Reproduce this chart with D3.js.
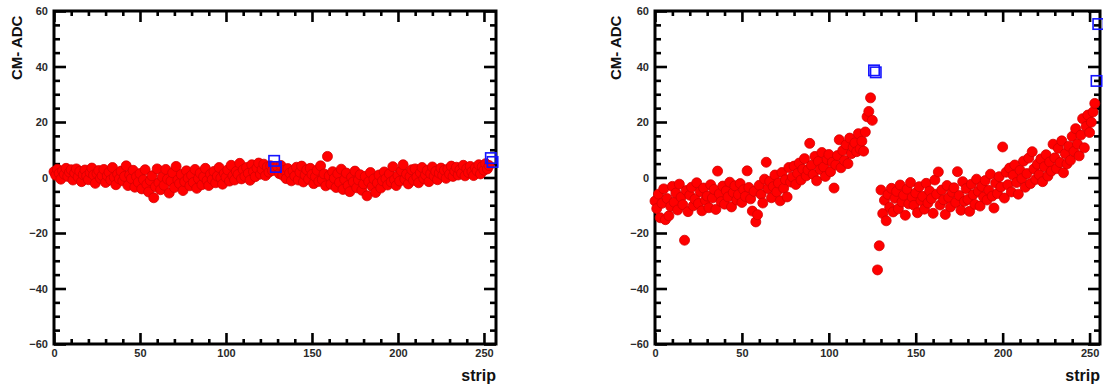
<!DOCTYPE html>
<html>
<head>
<meta charset="utf-8">
<script src="https://cdn.jsdelivr.net/npm/d3@7"></script>
<style>
  body { margin: 0; background: #fff; }
  svg { display: block; }
</style>
</head>
<body>
<svg id="chart" width="1103" height="385"></svg>
<script>
// Common-mode subtracted ADC per strip, two detector modules.
// null = strip flagged (drawn as an open square instead).

const xMajorTicks = [0, 50, 100, 150, 200, 250];
const yMajorTicks = [-60, -40, -20, 0, 20, 40, 60];

const leftValues = [
  2.1, 0.8, 3.0, 1.5, -0.6, 2.4, 1.2, 3.3, 0.4, 1.9,
  2.8, -0.9, 1.6, 3.1, 0.2, 2.2, -1.5, 1.0, 2.7, 0.5,
  -0.8, 1.8, 3.4, 0.9, -2.1, 1.4, 2.5, -0.3, 0.7, 2.9,
  -1.8, 0.6, 1.9, -0.9, 3.6, 0.1, -2.6, 1.2, -0.5, 2.3,
  -1.2, 0.4, 4.2, -2.9, 0.9, -0.4, 2.6, -3.5, 0.3, -1.7,
  1.4, -4.1, -0.8, 2.8, -2.5, -5.2, -1.1, 0.6, -7.3, -3.3,
  3.1, -1.9, -4.4, 0.2, -2.8, 2.9, -0.6, -5.6, -1.3, 1.7,
  -3.6, 4.0, -0.9, -2.2, 1.1, -4.7, -1.5, 2.4, -0.2, -3.0,
  0.8, -1.8, 2.9, -3.9, -0.4, 1.6, -2.6, 0.3, 3.3, -1.1,
  -2.9, 1.2, -0.7, 2.2, -1.9, 0.5, 3.6, -0.2, -2.4, 1.5,
  0.1, 2.7, -1.3, 4.4, 0.6, -0.9, 2.2, 1.1, 5.1, -0.5,
  2.8, 0.4, 3.6, 1.5, -1.0, 4.6, 2.1, 0.3, 3.4, 5.2,
  1.2, 2.9, 4.8, 0.7, 3.8, 1.9, 4.2, 2.5, null, null,
  3.9, 1.4, 4.3, 0.8, 2.6, -0.4, 3.2, 1.6, -1.2, 2.4,
  0.5, 3.7, -0.9, 1.9, 4.1, -1.6, 0.9, 2.8, -0.6, 3.3,
  1.1, -2.2, 0.3, 2.6, -1.4, 4.2, -0.8, 1.3, -3.0, 7.6,
  0.6, -2.4, 2.1, -0.3, -3.6, 1.4, -1.8, 3.0, -4.3, -0.7,
  1.6, -2.9, -5.1, 0.1, -1.6, 2.3, -3.7, -0.9, 1.0, -4.6,
  -2.3, 0.4, -6.6, -1.5, 1.8, -3.2, -0.5, -5.4, -2.0, 0.9,
  -3.8, -1.2, 2.0, -0.4, -2.7, 1.3, -1.6, 3.9, -0.8, -2.9,
  0.7, -1.3, 2.4, 4.6, -0.6, 1.2, -2.3, 0.4, 2.8, -1.0,
  3.1, 0.2, -1.9, 1.7, 3.6, -0.4, 0.9, 2.5, -1.5, 1.4,
  3.8, 0.5, 2.2, -0.8, 1.6, 3.4, 0.8, 2.6, -0.3, 3.0,
  1.2, 4.1, 0.4, 2.3, 3.7, 0.9, 2.8, 1.5, 4.4, 0.6,
  3.2, 1.8, 4.0, 2.1, 0.7, 3.5, 2.4, 4.6, 1.3, 3.9,
  2.6, 5.0, 3.1, 4.3, null, null
];
const leftFlagStrips = [128, 129, 254, 255];
const leftFlagValues = [6.0, 3.8, 7.0, 5.6];

const rightValues = [
  -8.5, -11.2, -6.0, -14.5, -9.3, -4.1, -15.2, -7.6, -13.8, -10.4,
  -3.2, -8.9, -5.6, -11.7, -2.4, -7.1, -9.8, -22.6, -4.7, -12.3,
  -6.4, -3.5, -10.2, -7.8, -1.9, -9.4, -5.1, -12.0, -3.8, -8.2,
  -6.7, -10.9, -2.6, -7.4, -4.3, -11.5, 2.3, -5.9, -8.7, -3.1,
  -9.6, -4.8, -7.0, -1.7, -10.6, -5.4, -3.0, -8.1, -6.2, -2.2,
  -9.0, -4.4, -6.8, 2.4, -3.6, -7.7, -12.1, -5.0, -16.0, -13.4,
  -2.8, -6.1, -9.2, -0.6, 5.5, -4.0, -1.4, -7.3, -3.3, 0.9,
  -5.2, -2.0, -8.4, 1.8, -3.9, -0.8, -7.0, 3.6, -1.6, 0.2,
  4.1, -2.5, 1.5, 5.2, -0.9, 3.0, 6.8, 0.6, 2.7, 12.3,
  4.4, 1.1, 7.6, -1.2, 5.8, 2.9, 9.0, 3.8, 0.4, 6.5,
  8.3, 2.1, 5.5, -3.8, 4.6, 7.9, 13.6, 3.5, 9.7, 6.1,
  11.8, 5.0, 14.2, 8.6, 10.9, 12.5, 9.3, 15.8, 10.3, 13.1,
  9.5, 16.4, 21.9, 23.8, 28.7, 20.6, null, null, -33.3, -24.6,
  -4.5, -13.0, -8.2, -15.6, -6.1, -10.7, -3.9, -12.4, -7.5, -5.0,
  -11.3, -2.7, -8.8, -6.4, -13.6, -4.2, -9.5, -1.8, -7.1, -10.0,
  -5.6, -12.7, -3.3, -8.3, -6.8, -11.4, -2.1, -9.2, -4.9, -7.6,
  -12.9, -0.9, -6.0, 2.0, -9.9, -4.5, -8.0, -13.3, -2.9, -7.2,
  -10.6, -5.3, -3.7, -9.0, 2.1, -6.5, -11.8, -1.5, -8.6, -4.0,
  -7.9, -12.2, -2.4, -6.2, -9.7, -0.6, -5.0, -10.3, -3.2, -7.0,
  -1.1, -8.1, -4.6, 1.2, -6.7, -11.0, -2.0, -5.8, 0.3, -3.4,
  11.0, -7.4, 1.9, -2.6, 3.4, -5.2, 0.8, 4.5, -1.8, -6.0,
  2.6, -0.4, 5.9, -3.5, 1.4, 7.0, -2.2, 9.3, 3.1, -0.7,
  4.8, 1.0, 6.7, -1.5, 3.9, 8.2, 0.5, 5.6, 2.3, 12.0,
  7.1, 3.2, 10.5, 5.4, 13.2, 1.7, 8.6, 4.9, 11.3, 6.2,
  14.8, 9.4, 17.6, 12.1, 7.8, 15.3, 21.2, 10.7, 18.4, 22.5,
  16.2, 19.9, 23.6, 26.7, null, null
];
const rightFlagStrips = [126, 127, 254, 255];
const rightFlagValues = [38.6, 37.9, 34.8, 55.3];

const svg = d3.select("#chart");
svg.append("rect").attr("width", 1103).attr("height", 385).attr("fill", "#fff");

const yTop = 11, yBottom = 344;
const y = d3.scaleLinear([-60, 60], [yBottom, yTop]);

function drawPanel(opt) {
  const x = d3.scaleLinear(opt.xDomain, opt.xRange);
  const [xl, xr] = opt.xRange;
  const g = svg.append("g");

  const xMinor = d3.range(0, opt.xDomain[1] + 0.001, 10).filter(v => v % 50 !== 0);
  const yMinor = d3.range(-60, 60.001, 5).filter(v => v % 20 !== 0);

  const tickStyle = sel => {
    sel.select(".domain").remove();
    sel.selectAll(".tick line").attr("stroke", "#000").attr("stroke-width", 2.6);
  };
  const labelStyle = sel => {
    sel.selectAll(".tick text")
      .attr("fill", "#2a2a2a")
      .style("font-family", "'Liberation Sans', Arial, sans-serif")
      .style("font-weight", "bold")
      .style("font-size", "11px");
  };

  // bottom axis with labels, ticks pointing into the frame
  g.append("g").attr("transform", `translate(0,${yBottom})`)
    .call(d3.axisBottom(x).tickValues(xMajorTicks).tickSize(-11).tickPadding(5).tickFormat(d3.format("d")))
    .call(tickStyle).call(labelStyle);
  g.append("g").attr("transform", `translate(0,${yBottom})`)
    .call(d3.axisBottom(x).tickValues(xMinor).tickSize(-5).tickFormat(""))
    .call(tickStyle);
  // top axis (mirrored ticks)
  g.append("g").attr("transform", `translate(0,${yTop})`)
    .call(d3.axisTop(x).tickValues(xMajorTicks).tickSize(-11).tickFormat(""))
    .call(tickStyle);
  g.append("g").attr("transform", `translate(0,${yTop})`)
    .call(d3.axisTop(x).tickValues(xMinor).tickSize(-5).tickFormat(""))
    .call(tickStyle);
  // left axis with labels
  g.append("g").attr("transform", `translate(${xl},0)`)
    .call(d3.axisLeft(y).tickValues(yMajorTicks).tickSize(-12).tickPadding(6).tickFormat(d3.format("d")))
    .call(tickStyle).call(labelStyle);
  g.append("g").attr("transform", `translate(${xl},0)`)
    .call(d3.axisLeft(y).tickValues(yMinor).tickSize(-6).tickFormat(""))
    .call(tickStyle);
  // right axis (mirrored ticks)
  g.append("g").attr("transform", `translate(${xr},0)`)
    .call(d3.axisRight(y).tickValues(yMajorTicks).tickSize(-12).tickFormat(""))
    .call(tickStyle);
  g.append("g").attr("transform", `translate(${xr},0)`)
    .call(d3.axisRight(y).tickValues(yMinor).tickSize(-6).tickFormat(""))
    .call(tickStyle);

  // frame
  g.append("rect")
    .attr("x", xl).attr("y", yTop)
    .attr("width", xr - xl).attr("height", yBottom - yTop)
    .attr("fill", "none").attr("stroke", "#000").attr("stroke-width", 3);

  // titles
  g.append("text")
    .attr("transform", `translate(${opt.yTitleX},80) rotate(-90)`)
    .attr("text-anchor", "start")
    .attr("dominant-baseline", "middle")
    .style("font-family", "'Liberation Sans', Arial, sans-serif")
    .style("font-weight", "bold").style("font-size", "15px")
    .attr("fill", "#111")
    .text("CM- ADC");
  g.append("text")
    .attr("x", xr).attr("y", 381)
    .attr("text-anchor", "end")
    .style("font-family", "'Liberation Sans', Arial, sans-serif")
    .style("font-weight", "bold").style("font-size", "16px")
    .attr("fill", "#111")
    .text("strip");

  // strips with a normal reading
  const pts = opt.values.map((v, i) => ({ s: i, v })).filter(d => d.v !== null);
  g.append("g").selectAll("circle").data(pts).join("circle")
    .attr("cx", d => x(d.s)).attr("cy", d => y(d.v))
    .attr("r", 5)
    .attr("fill", "#ff0000").attr("stroke", "#d40000").attr("stroke-width", 0.8);

  // flagged strips
  const flags = opt.flagStrips.map((s, i) => ({ s, v: opt.flagValues[i] }));
  const half = 5.2;
  g.append("g").selectAll("rect").data(flags).join("rect")
    .attr("x", d => x(d.s) - half).attr("y", d => y(d.v) - half)
    .attr("width", half * 2).attr("height", half * 2)
    .attr("fill", "none").attr("stroke", "#1414ff").attr("stroke-width", 1.6);
}

drawPanel({
  xDomain: [0, 257], xRange: [54, 496], yTitleX: 18,
  values: leftValues, flagStrips: leftFlagStrips, flagValues: leftFlagValues
});
drawPanel({
  xDomain: [0, 256], xRange: [655, 1100], yTitleX: 617,
  values: rightValues, flagStrips: rightFlagStrips, flagValues: rightFlagValues
});
</script>
</body>
</html>
